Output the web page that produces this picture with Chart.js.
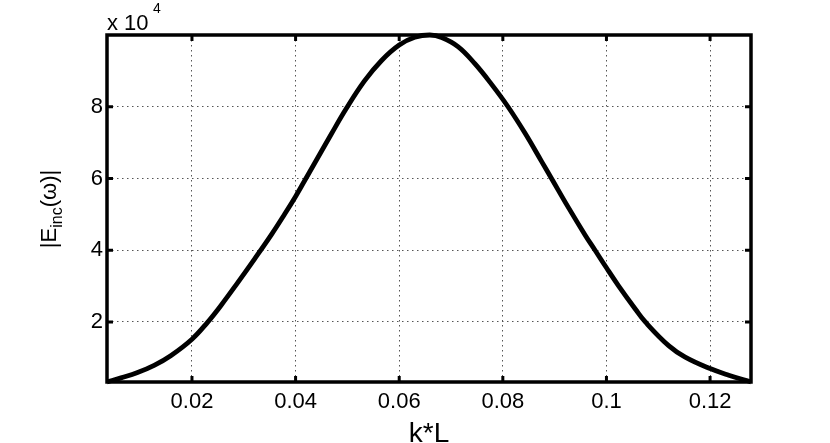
<!DOCTYPE html>
<html>
<head>
<meta charset="utf-8">
<script src="https://cdn.jsdelivr.net/npm/chart.js@4"></script>
<style>
  html, body { margin: 0; padding: 0; background: #fff; }
  #wrap { width: 830px; height: 443px; }
</style>
</head>
<body>
<div id="wrap"><canvas id="myChart" width="830" height="443"></canvas></div>
<script>
// values (k*L vs |E_inc|)
const kL = [0.0036, 0.0063, 0.0095, 0.0127, 0.0159, 0.0200, 0.0230, 0.0256, 0.0288, 0.0321,
  0.0354, 0.0379, 0.0400, 0.0416, 0.0437, 0.0469, 0.0497, 0.0533, 0.0566, 0.0600,
  0.0630, 0.0659, 0.0682, 0.0714, 0.0746, 0.0778, 0.0810, 0.0843, 0.0875, 0.0894,
  0.0927, 0.0959, 0.0978, 0.1000, 0.1023, 0.1056, 0.1075, 0.1120, 0.1152, 0.1200,
  0.1236, 0.1279];
const Einc = [3260, 4400, 5900, 7900, 10600, 15200, 19900, 24600, 30900, 37600,
  44500, 50100, 55000, 59000, 64300, 72400, 79300, 87200, 92900, 97200,
  99350, 100000, 99300, 96700, 92000, 86300, 80000, 72600, 64700, 60000,
  51800, 44200, 40000, 35100, 30150, 23550, 20000, 13400, 10200, 7000,
  5150, 3260];
const xTicks = [0.02, 0.04, 0.06, 0.08, 0.1, 0.12];
const yTicks = [20000, 40000, 60000, 80000];
const xRange = [0.0036, 0.1279];
const yRange = [3260, 100000];

const FONT = "'Liberation Sans', Arial, Helvetica, sans-serif";

const points = kL.map((x, i) => ({ x: x, y: Einc[i] }));

// box, inward ticks and the axis texts, matlab style
const frame = {
  id: "frame",
  afterDraw(chart) {
    const ctx = chart.ctx;
    const a = chart.chartArea;
    const xs = chart.scales.x;
    const ys = chart.scales.y;
    ctx.save();
    ctx.strokeStyle = "#000";
    ctx.lineWidth = 3;
    ctx.setLineDash([]);
    ctx.beginPath();
    xTicks.forEach(v => {
      const px = xs.getPixelForValue(v);
      ctx.moveTo(px, a.bottom); ctx.lineTo(px, a.bottom - 6);
      ctx.moveTo(px, a.top); ctx.lineTo(px, a.top + 6);
    });
    yTicks.forEach(v => {
      const py = ys.getPixelForValue(v);
      ctx.moveTo(a.left, py); ctx.lineTo(a.left + 6, py);
      ctx.moveTo(a.right, py); ctx.lineTo(a.right - 6, py);
    });
    ctx.stroke();
    ctx.lineWidth = 3.5;
    ctx.strokeRect(a.left, a.top, a.right - a.left, a.bottom - a.top);

    ctx.fillStyle = "#000";
    ctx.textBaseline = "alphabetic";
    ctx.textAlign = "left";
    // exponent above the y axis
    ctx.font = "22px " + FONT;
    ctx.fillText("x 10", a.left, 30);
    ctx.font = "14px " + FONT;
    ctx.fillText("4", a.left + 46, 13);

    // x title
    ctx.font = "28px " + FONT;
    ctx.textAlign = "center";
    ctx.fillText("k*L", (a.left + a.right) / 2, 442);

    // y title with subscript
    ctx.translate(56, 209);
    ctx.rotate(-Math.PI / 2);
    const big = "22px " + FONT;
    const small = "16px " + FONT;
    ctx.font = big;
    const w1 = ctx.measureText("|E").width;
    const w3 = ctx.measureText("(ω)|").width;
    ctx.font = small;
    const w2 = ctx.measureText("inc").width;
    let x0 = -(w1 + w2 + w3) / 2;
    ctx.textAlign = "left";
    ctx.font = big;
    ctx.fillText("|E", x0, 0);
    ctx.font = small;
    ctx.fillText("inc", x0 + w1, 6);
    ctx.font = big;
    ctx.fillText("(ω)|", x0 + w1 + w2, 0);
    ctx.restore();
  }
};

const ctx = document.getElementById("myChart").getContext("2d");
const myChart = new Chart(ctx, {
  type: "scatter",
  data: {
    datasets: [
      {
        data: points,
        showLine: true,
        borderColor: "#000",
        borderWidth: 4.8,
        pointRadius: 0,
        tension: 0.4,
        clip: 4,
      },
    ],
  },
  options: {
    responsive: false,
    animation: false,
    layout: { padding: { left: 0, right: 79, top: 35, bottom: 0 } },
    plugins: { legend: { display: false }, tooltip: { enabled: false } },
    scales: {
      x: {
        type: "linear",
        min: xRange[0],
        max: xRange[1],
        afterBuildTicks: s => { s.ticks = xTicks.map(v => ({ value: v })); },
        afterFit: s => { s.height = 61; },
        grid: { color: "#555", lineWidth: 1, drawTicks: false },
        border: { display: false, dash: [1.5, 3.5] },
        ticks: {
          color: "#000",
          padding: 7,
          font: { family: FONT, size: 22 },
          callback: v => String(Math.round(v * 100) / 100),
        },
      },
      y: {
        type: "linear",
        min: yRange[0],
        max: yRange[1],
        afterBuildTicks: s => { s.ticks = yTicks.map(v => ({ value: v })); },
        afterFit: s => { s.width = 107; },
        grid: { color: "#555", lineWidth: 1, drawTicks: false },
        border: { display: false, dash: [1.5, 3.5] },
        ticks: {
          color: "#000",
          padding: 4,
          font: { family: FONT, size: 22 },
          callback: v => String(v / 10000),
        },
      },
    },
  },
  plugins: [frame],
});
</script>
</body>
</html>
